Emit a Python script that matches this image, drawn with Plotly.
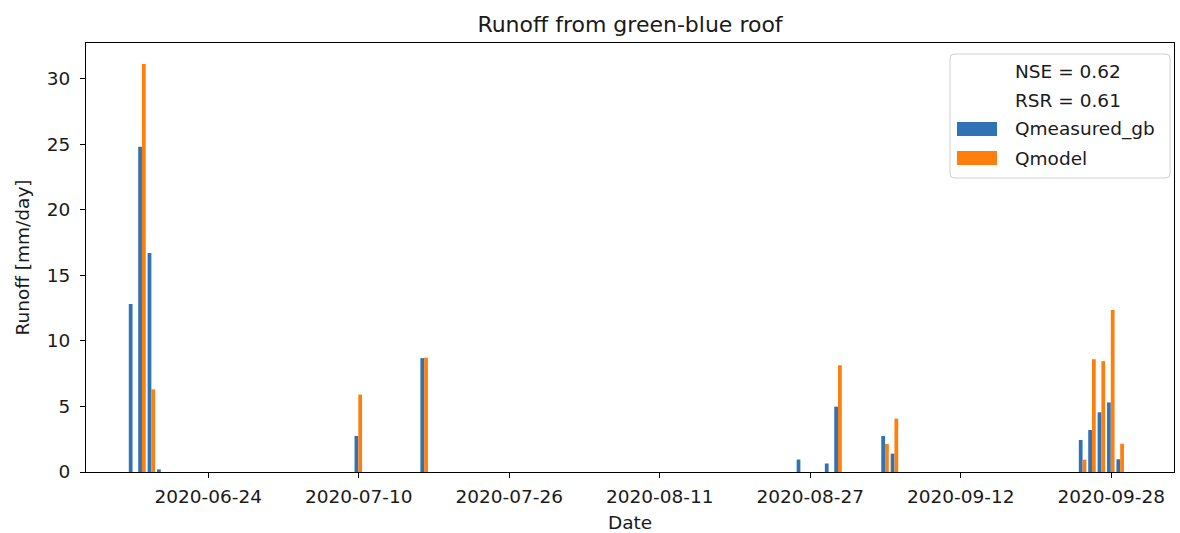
import plotly.graph_objects as go
import pandas as pd

# Daily runoff series (mm/day)
dates = [
    "2020-06-16", "2020-06-17", "2020-06-18", "2020-06-19",
    "2020-07-10", "2020-07-17",
    "2020-08-26", "2020-08-29", "2020-08-30",
    "2020-09-04", "2020-09-05",
    "2020-09-25", "2020-09-26", "2020-09-27", "2020-09-28", "2020-09-29",
]
q_measured = [12.8, 24.8, 16.7, 0.2, 2.75, 8.68, 0.95, 0.65, 4.98,
              2.75, 1.4, 2.44, 3.2, 4.55, 5.3, 0.97]
q_model = [0.0, 31.1, 6.3, 0.0, 5.9, 8.72, 0.0, 0.0, 8.14,
           2.14, 4.07, 0.94, 8.6, 8.45, 12.34, 2.16]

stats_labels = ["NSE = 0.62", "RSR = 0.61"]
series_names = ["Qmeasured_gb", "Qmodel"]
x_tick_dates = ["2020-06-24", "2020-07-10", "2020-07-26", "2020-08-11",
                "2020-08-27", "2020-09-12", "2020-09-28"]
y_ticks = [0, 5, 10, 15, 20, 25, 30]

BLUE = "#2f73b6"
ORANGE = "#ff7f0e"
TEXT = "#1a1a1a"
FONT = "DejaVu Sans"

DAY_MS = 86400000
BAR_W = 0.4 * DAY_MS

W, H = 1180, 533
L, R, T, B = 86, 6, 43, 61
PW, PH = W - L - R, H - T - B


def px(x):
    return (x - L) / PW


def py(y):
    return (H - B - y) / PH


x_dates = pd.to_datetime(dates)

fig = go.Figure()
fig.add_trace(go.Bar(
    x=x_dates, y=q_measured, name=series_names[0],
    width=[BAR_W] * len(dates), offset=-0.45 * DAY_MS,
    marker=dict(color=BLUE, line=dict(width=0)), showlegend=False,
))
fig.add_trace(go.Bar(
    x=x_dates, y=q_model, name=series_names[1],
    width=[BAR_W] * len(dates), offset=-0.05 * DAY_MS,
    marker=dict(color=ORANGE, line=dict(width=0)), showlegend=False,
))

x0 = pd.Timestamp("2020-06-24") - pd.Timedelta(days=13.0)
x1 = pd.Timestamp("2020-06-24") + pd.Timedelta(days=102.67)

axis_common = dict(
    showline=True, linecolor="black", linewidth=1, mirror=True,
    ticks="outside", ticklen=5, tickwidth=1, tickcolor="black",
    showgrid=False, zeroline=False, automargin=False,
    tickfont=dict(family=FONT, size=18.5, color=TEXT),
)

fig.update_layout(
    width=W, height=H,
    margin=dict(l=L, r=R, t=T, b=B),
    paper_bgcolor="white", plot_bgcolor="white",
    barmode="overlay",
    font=dict(family=FONT, color=TEXT),
    title=dict(text="Runoff from green-blue roof", x=px(630), xref="paper",
               xanchor="center", y=1 - 24 / H, yanchor="middle",
               font=dict(family=FONT, size=22, color=TEXT)),
    xaxis=dict(
        range=[x0, x1], type="date",
        tickvals=pd.to_datetime(x_tick_dates), ticktext=x_tick_dates,
        ticklabelstandoff=3,
        title=dict(text="Date", font=dict(family=FONT, size=18.5, color=TEXT),
                   standoff=9),
        **axis_common,
    ),
    yaxis=dict(
        range=[0, 32.7], tickvals=y_ticks,
        ticklabelstandoff=6,
        title=dict(text="Runoff [mm/day]",
                   font=dict(family=FONT, size=18.5, color=TEXT), standoff=12),
        **axis_common,
    ),
)

# Legend box with rounded corners
bx0, bx1, by0, by1 = 950, 1170, 54, 178
r = 4
path = (
    f"M {px(bx0 + r)},{py(by0)} L {px(bx1 - r)},{py(by0)} "
    f"Q {px(bx1)},{py(by0)} {px(bx1)},{py(by0 + r)} "
    f"L {px(bx1)},{py(by1 - r)} Q {px(bx1)},{py(by1)} {px(bx1 - r)},{py(by1)} "
    f"L {px(bx0 + r)},{py(by1)} Q {px(bx0)},{py(by1)} {px(bx0)},{py(by1 - r)} "
    f"L {px(bx0)},{py(by0 + r)} Q {px(bx0)},{py(by0)} {px(bx0 + r)},{py(by0)} Z"
)
fig.add_shape(type="path", path=path, xref="paper", yref="paper",
              line=dict(color="#d0d0d0", width=1),
              fillcolor="rgba(255,255,255,0.8)", layer="above")

rows = [71.5, 100.5, 129, 158]
for label, yc in zip(stats_labels, rows[:2]):
    fig.add_annotation(text=label, x=px(1013), y=py(yc), xref="paper", yref="paper",
                       xanchor="left", yanchor="middle", showarrow=False,
                       font=dict(family=FONT, size=18.5, color=TEXT))
for name, color, yc in zip(series_names, [BLUE, ORANGE], rows[2:]):
    fig.add_shape(type="rect", xref="paper", yref="paper",
                  x0=px(957), x1=px(997), y0=py(yc + 7), y1=py(yc - 7),
                  fillcolor=color, line=dict(width=0), layer="above")
    fig.add_annotation(text=name, x=px(1013), y=py(yc), xref="paper", yref="paper",
                       xanchor="left", yanchor="middle", showarrow=False,
                       font=dict(family=FONT, size=18.5, color=TEXT))

fig.write_html("out.html")
